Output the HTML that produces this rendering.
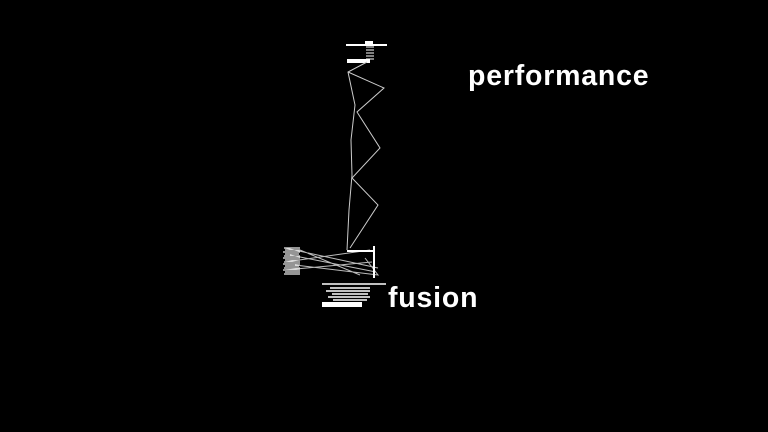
<!DOCTYPE html>
<html><head><style>
html,body{margin:0;padding:0;background:#000;width:768px;height:432px;overflow:hidden}
.t{position:absolute;color:#fff;font-family:"Liberation Sans",sans-serif;font-weight:bold;font-size:28.5px;letter-spacing:0.8px}
</style></head><body>
<svg width="768" height="432" style="position:absolute;left:0;top:0">
<g stroke="#fff" fill="none">
<line x1="346" y1="45" x2="387" y2="45" stroke-width="2"/>
<rect x="365" y="41" width="8" height="4" fill="#fff" stroke="none"/>
<path d="M366 47 h8 M366 50 h8 M366 53 h8 M366 56 h8 M366 59 h8" stroke-width="1"/>
<rect x="347" y="59" width="23" height="4" fill="#fff" stroke="none"/>
<path d="M348 72 L384 88 L357 112 L380 148 L352 178 L378 205 L350 248" stroke-width="1" stroke="#ccc"/>
<path d="M367 62 L348 72 L355 105 L351 140 L352 175 L349 210 L347 250" stroke-width="1" stroke="#ccc"/>
<path d="M285 248 L378 268 M285 262 L370 250 M290 255 L376 272 M285 270 L372 262 M300 250 L360 275 M295 265 L378 275 L365 258" stroke-width="1" stroke="#bbb"/>
<line x1="347" y1="251" x2="374" y2="251" stroke-width="2"/>
<line x1="374" y1="246" x2="374" y2="278" stroke-width="2"/>
</g>
<g stroke="#eee" stroke-width="1.2">
<path d="M284 248h16M285 250h15M283 252h17M285 254h14M284 256h16M283 258h17M285 260h15M284 262h16M283 264h17M285 266h14M284 268h16M283 270h17M285 272h15M284 274h16"/>
</g>
<g stroke="#fff" stroke-width="1.5">
<line x1="322" y1="284" x2="386" y2="284"/>
<path d="M330 288 h40 M326 291 h44 M332 294 h36 M328 297 h42 M333 300 h34"/>
</g>
<rect x="322" y="302" width="40" height="5" fill="#fff"/>
</svg>
<div class="t" style="left:468px;top:60px">performance</div>
<div class="t" style="left:388px;top:282px">fusion</div>
</body></html>
